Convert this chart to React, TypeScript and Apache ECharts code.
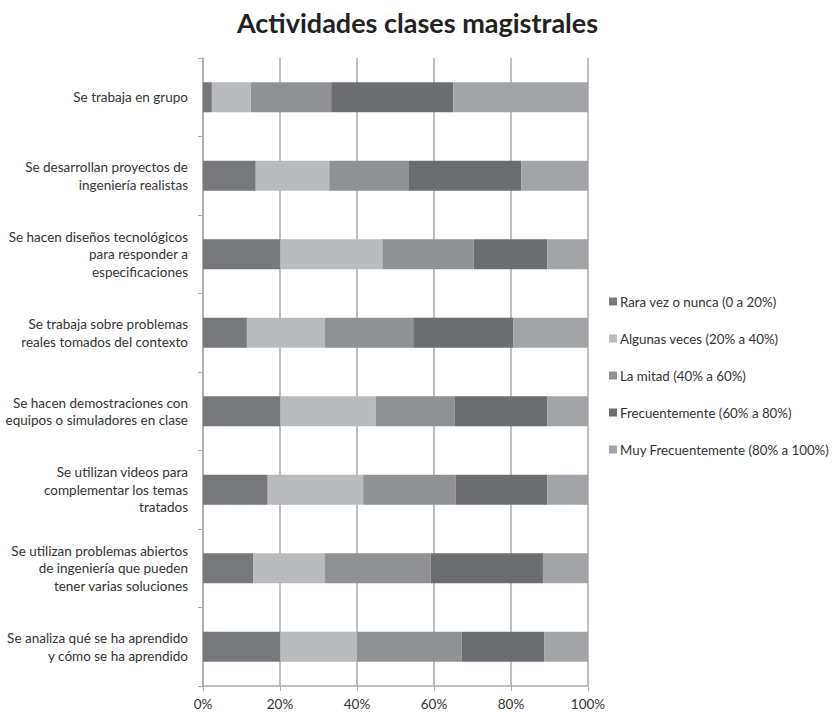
import React, { useEffect, useRef } from "react";
import * as echarts from "echarts";

const categories = [
  "Se trabaja en grupo",
  "Se desarrollan proyectos de\ningeniería realistas",
  "Se hacen diseños tecnológicos\npara responder a\nespecificaciones",
  "Se trabaja sobre problemas\nreales tomados del contexto",
  "Se hacen demostraciones con\nequipos o simuladores en clase",
  "Se utilizan videos para\ncomplementar los temas\ntratados",
  "Se utilizan problemas abiertos\nde ingeniería que pueden\ntener varias soluciones",
  "Se analiza qué se ha aprendido\ny cómo se ha aprendido",
];

const seriesNames = [
  "Rara vez o nunca (0 a 20%)",
  "Algunas veces (20% a 40%)",
  "La mitad (40% a 60%)",
  "Frecuentemente (60% a 80%)",
  "Muy Frecuentemente (80% a 100%)",
];

const rara = [2.3, 13.7, 20.1, 11.4, 20.1, 16.8, 13.0, 20.1];
const algunas = [10.1, 19.1, 26.5, 20.3, 24.8, 24.8, 18.7, 19.9];
const mitad = [20.9, 20.7, 23.7, 22.9, 20.4, 24.0, 27.4, 27.2];
const frecuente = [31.7, 29.2, 19.1, 26.0, 24.1, 23.8, 29.2, 21.5];
const muyFrecuente = [35.0, 17.3, 10.6, 19.4, 10.6, 10.6, 11.7, 11.3];

const xTicks = [0, 20, 40, 60, 80, 100];

const colors = ["#77787c", "#babbbe", "#909195", "#6c6d71", "#a3a4a7"];

export default function App() {
  const ref = useRef<HTMLDivElement>(null);
  useEffect(() => {
    if (!ref.current) return;
    const chart = echarts.init(ref.current, undefined, { renderer: "svg" });
    const values = [rara, algunas, mitad, frecuente, muyFrecuente];
    const font = "Lato";
    chart.setOption({
      animation: false,
      textStyle: { fontFamily: font },
      title: {
        text: "Actividades clases magistrales",
        left: "center",
        top: 4,
        textStyle: { fontFamily: font, fontSize: 27, fontWeight: "bold", color: "#222" },
      },
      legend: {
        orient: "vertical",
        left: 604,
        top: 290,
        itemGap: 24,
        itemWidth: 8,
        itemHeight: 8,
        icon: "rect",
        textStyle: { fontFamily: font, fontSize: 13.3, color: "#333", padding: [0, 0, 0, -2] },
        data: seriesNames,
      },
      grid: { left: 203, right: 247, top: 58, bottom: 28, containLabel: false },
      xAxis: {
        type: "value",
        min: 0,
        max: 100,
        interval: 20,
        axisLine: { show: true, lineStyle: { color: "#aaa", width: 1.5 } },
        axisTick: { show: true, length: 5, lineStyle: { color: "#aaa" } },
        splitLine: { show: true, lineStyle: { color: "#aaa", width: 1.5 } },
        axisLabel: {
          fontFamily: font,
          fontSize: 13.5,
          color: "#333",
          margin: 11,
          formatter: (v: number) => (xTicks.includes(v) ? v + "%" : ""),
        },
      },
      yAxis: {
        type: "category",
        inverse: true,
        data: categories,
        axisLine: { show: true, lineStyle: { color: "#aaa", width: 1.5 } },
        axisTick: { show: true, length: 5, inside: false, lineStyle: { color: "#aaa" } },
        axisLabel: {
          fontFamily: font,
          fontSize: 13.5,
          color: "#333",
          margin: 15,
          lineHeight: 17.5,
          align: "right",
        },
      },
      series: values.map((d, i) => ({
        name: seriesNames[i],
        type: "bar",
        stack: "total",
        data: d,
        barWidth: 30,
        itemStyle: { color: colors[i] },
      })),
    });
    return () => chart.dispose();
  }, []);
  return (
    <div
      ref={ref}
      style={{ position: "fixed", left: 0, top: 0, width: 835, height: 714, background: "#fff" }}
    />
  );
}
